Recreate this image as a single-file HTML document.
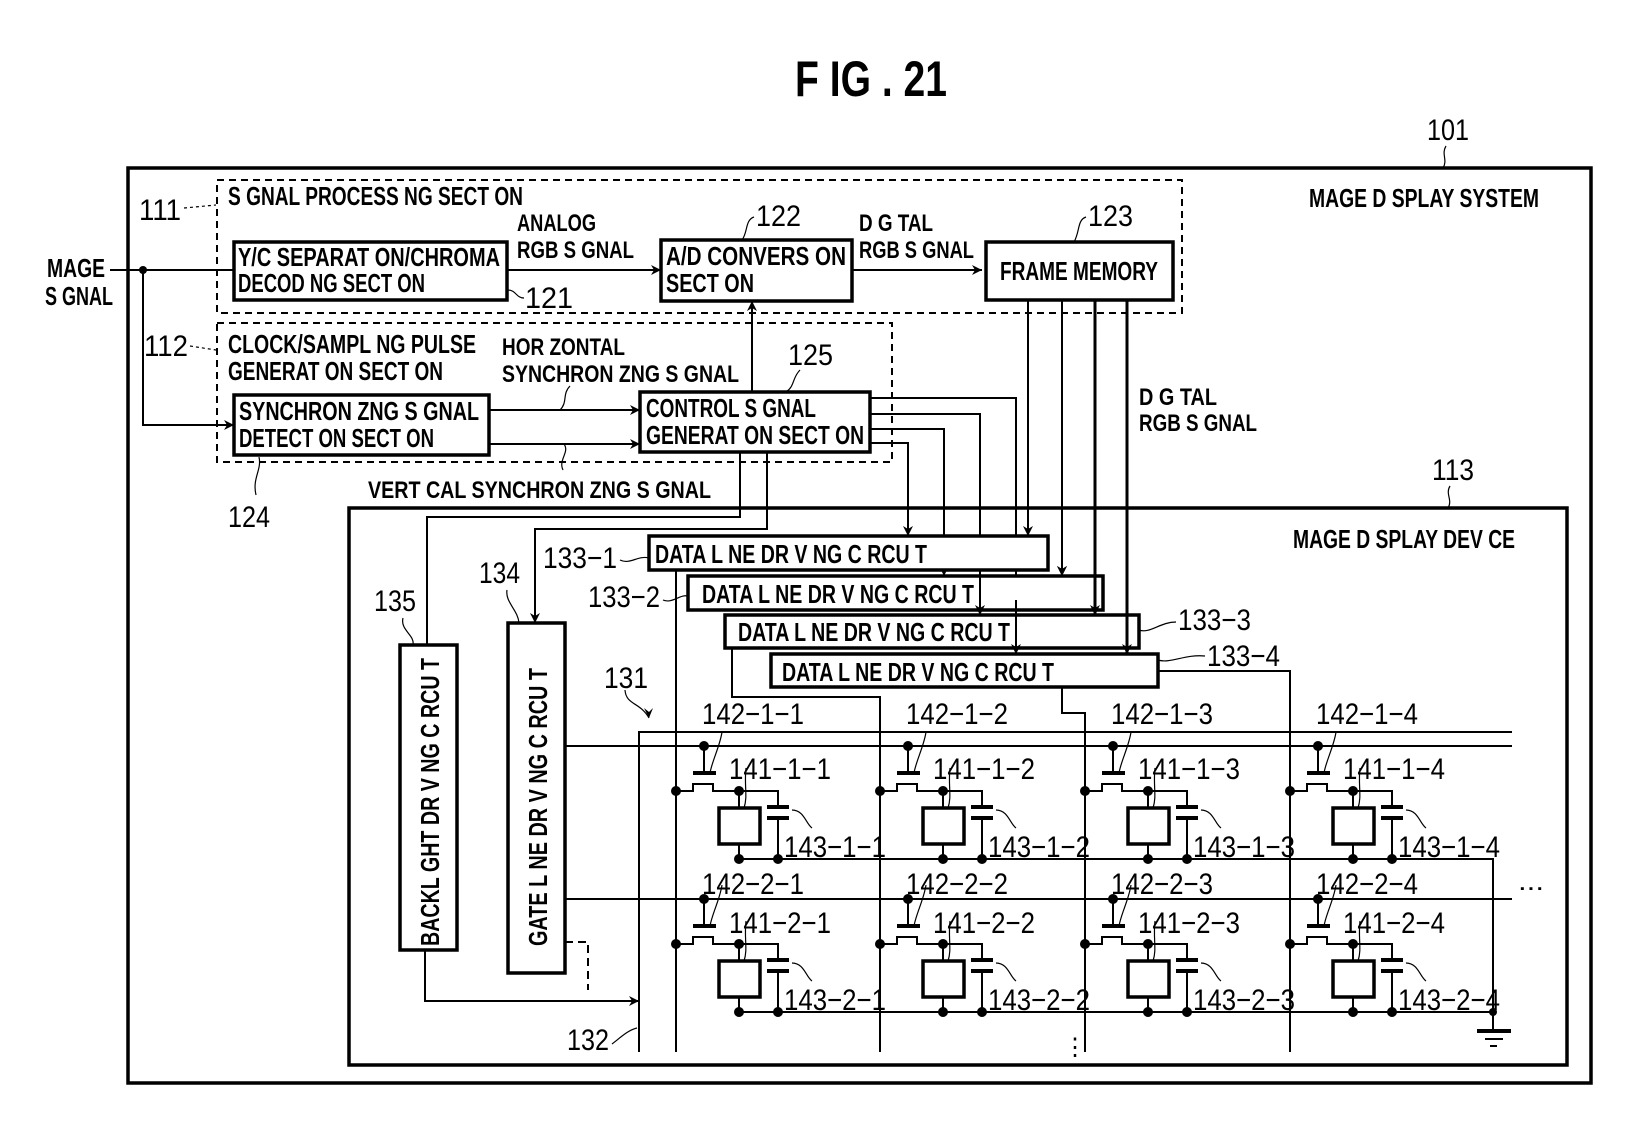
<!DOCTYPE html>
<html><head><meta charset="utf-8"><style>
html,body{margin:0;padding:0;background:#fff;}
svg{display:block;}
text{font-family:"Liberation Sans",sans-serif;fill:#000;}
.b{font-weight:bold;}
</style></head><body>
<svg width="1630" height="1134" viewBox="0 0 1630 1134" xmlns="http://www.w3.org/2000/svg">
<defs>
<marker id="ar" viewBox="0 0 10 10" refX="10" refY="5" markerWidth="10" markerHeight="10" markerUnits="userSpaceOnUse" orient="auto"><path d="M0,0 L10,5 L0,10 L3,5 z" fill="#000"/></marker>
<g id="cell" fill="none" stroke="#000" stroke-width="2">
<circle cx="28" cy="0" r="4" fill="#000"/>
<line x1="28" y1="0" x2="28" y2="27"/>
<line x1="17" y1="27" x2="40" y2="27" stroke-width="4"/>
<path d="M0 45 H17 V38 H37 V45 H102 V61"/>
<circle cx="0" cy="45" r="4" fill="#000"/>
<circle cx="63" cy="45" r="4" fill="#000"/>
<line x1="63" y1="45" x2="63" y2="62"/>
<rect x="43" y="62" width="41" height="36" stroke-width="3.5"/>
<line x1="91" y1="61" x2="113" y2="61" stroke-width="4"/>
<line x1="91" y1="72" x2="113" y2="72" stroke-width="4"/>
<line x1="102" y1="72" x2="102" y2="113"/>
<line x1="63" y1="98" x2="63" y2="113"/>
<circle cx="63" cy="113" r="4" fill="#000"/>
<circle cx="102" cy="113" r="4" fill="#000"/>
<path d="M34 27 C36 15 44 0 46 -14" stroke-width="1.2"/>
<path d="M68 62 C72 50 68 40 70 22" stroke-width="1.2"/>
<path d="M116 64 C128 64 130 78 136 82" stroke-width="1.2"/>
</g>
</defs>

<text x="795" y="96" font-size="50" class="b" textLength="152" lengthAdjust="spacingAndGlyphs">F IG . 21</text>
<text x="1427" y="140" font-size="30" textLength="42" lengthAdjust="spacingAndGlyphs">101</text>
<path d="M1446 146 C1441 154 1448 160 1443 168" fill="none" stroke="#000" stroke-width="1.2"/>

<rect x="128" y="168" width="1463" height="915" fill="none" stroke="#000" stroke-width="3.5"/>
<text x="1309" y="207" font-size="26" class="b" textLength="230" lengthAdjust="spacingAndGlyphs">MAGE D SPLAY SYSTEM</text>

<rect x="217" y="180" width="965" height="133" fill="none" stroke="#000" stroke-width="2" stroke-dasharray="7,5"/>
<text x="228" y="205" font-size="26" class="b" textLength="295" lengthAdjust="spacingAndGlyphs">S GNAL PROCESS NG SECT ON</text>
<text x="139" y="220" font-size="30" textLength="42" lengthAdjust="spacingAndGlyphs">111</text>
<line x1="184" y1="208" x2="216" y2="205" stroke="#000" stroke-width="1.2" stroke-dasharray="3,3"/>

<text x="47" y="277" font-size="26" class="b" textLength="58" lengthAdjust="spacingAndGlyphs">MAGE</text>
<text x="45" y="305" font-size="26" class="b" textLength="68" lengthAdjust="spacingAndGlyphs">S GNAL</text>
<line x1="110" y1="270" x2="234" y2="270" stroke="#000" stroke-width="2"/>
<circle cx="143" cy="270" r="4"/>
<path d="M143 270 V425 H234" fill="none" stroke="#000" stroke-width="2" marker-end="url(#ar)"/>

<rect x="234" y="242" width="273" height="58" fill="none" stroke="#000" stroke-width="3.5"/>
<text x="238" y="266" font-size="26" class="b" textLength="262" lengthAdjust="spacingAndGlyphs">Y/C SEPARAT ON/CHROMA</text>
<text x="238" y="292" font-size="26" class="b" textLength="187" lengthAdjust="spacingAndGlyphs">DECOD NG SECT ON</text>
<path d="M508 290 C516 290 516 298 524 298" fill="none" stroke="#000" stroke-width="1.2"/>
<text x="525" y="308" font-size="30" textLength="48" lengthAdjust="spacingAndGlyphs">121</text>
<line x1="507" y1="270" x2="661" y2="270" stroke="#000" stroke-width="2" marker-end="url(#ar)"/>
<text x="517" y="231" font-size="24" class="b" textLength="79" lengthAdjust="spacingAndGlyphs">ANALOG</text>
<text x="517" y="258" font-size="24" class="b" textLength="117" lengthAdjust="spacingAndGlyphs">RGB S GNAL</text>

<rect x="661" y="240" width="191" height="61" fill="none" stroke="#000" stroke-width="3.5"/>
<text x="666" y="265" font-size="26" class="b" textLength="180" lengthAdjust="spacingAndGlyphs">A/D CONVERS ON</text>
<text x="666" y="292" font-size="26" class="b" textLength="88" lengthAdjust="spacingAndGlyphs">SECT ON</text>
<text x="756" y="226" font-size="30" textLength="45" lengthAdjust="spacingAndGlyphs">122</text>
<path d="M754 217 C745 220 748 232 742 240" fill="none" stroke="#000" stroke-width="1.2"/>
<text x="859" y="231" font-size="24" class="b" textLength="74" lengthAdjust="spacingAndGlyphs">D G TAL</text>
<text x="859" y="258" font-size="24" class="b" textLength="115" lengthAdjust="spacingAndGlyphs">RGB S GNAL</text>
<line x1="852" y1="270" x2="982" y2="270" stroke="#000" stroke-width="2" marker-end="url(#ar)"/>

<rect x="986" y="242" width="187" height="58" fill="none" stroke="#000" stroke-width="3.5"/>
<text x="1000" y="280" font-size="26" class="b" textLength="158" lengthAdjust="spacingAndGlyphs">FRAME MEMORY</text>
<text x="1088" y="226" font-size="30" textLength="45" lengthAdjust="spacingAndGlyphs">123</text>
<path d="M1086 217 C1077 220 1080 232 1074 242" fill="none" stroke="#000" stroke-width="1.2"/>

<rect x="217" y="323" width="675" height="139" fill="none" stroke="#000" stroke-width="2" stroke-dasharray="7,5"/>
<text x="228" y="353" font-size="26" class="b" textLength="248" lengthAdjust="spacingAndGlyphs">CLOCK/SAMPL NG PULSE</text>
<text x="228" y="380" font-size="26" class="b" textLength="215" lengthAdjust="spacingAndGlyphs">GENERAT ON SECT ON</text>
<text x="144" y="356" font-size="30" textLength="44" lengthAdjust="spacingAndGlyphs">112</text>
<line x1="190" y1="346" x2="216" y2="350" stroke="#000" stroke-width="1.2" stroke-dasharray="3,3"/>

<rect x="234" y="395" width="255" height="60" fill="none" stroke="#000" stroke-width="3.5"/>
<text x="239" y="420" font-size="26" class="b" textLength="240" lengthAdjust="spacingAndGlyphs">SYNCHRON ZNG S GNAL</text>
<text x="239" y="447" font-size="26" class="b" textLength="195" lengthAdjust="spacingAndGlyphs">DETECT ON SECT ON</text>
<path d="M259 457 C262 470 252 478 256 495" fill="none" stroke="#000" stroke-width="1.2"/>
<text x="228" y="527" font-size="30" textLength="42" lengthAdjust="spacingAndGlyphs">124</text>

<rect x="640" y="392" width="230" height="60" fill="none" stroke="#000" stroke-width="3.5"/>
<text x="646" y="417" font-size="26" class="b" textLength="170" lengthAdjust="spacingAndGlyphs">CONTROL S GNAL</text>
<text x="646" y="444" font-size="26" class="b" textLength="218" lengthAdjust="spacingAndGlyphs">GENERAT ON SECT ON</text>
<text x="788" y="365" font-size="30" textLength="45" lengthAdjust="spacingAndGlyphs">125</text>
<path d="M800 370 C792 378 795 386 786 392" fill="none" stroke="#000" stroke-width="1.2"/>
<line x1="752" y1="392" x2="752" y2="301" stroke="#000" stroke-width="2" marker-end="url(#ar)"/>
<line x1="489" y1="410" x2="640" y2="410" stroke="#000" stroke-width="2" marker-end="url(#ar)"/>
<line x1="489" y1="444" x2="640" y2="444" stroke="#000" stroke-width="2" marker-end="url(#ar)"/>
<text x="502" y="355" font-size="24" class="b" textLength="123" lengthAdjust="spacingAndGlyphs">HOR ZONTAL</text>
<text x="502" y="382" font-size="24" class="b" textLength="237" lengthAdjust="spacingAndGlyphs">SYNCHRON ZNG S GNAL</text>
<path d="M570 386 C562 394 568 402 560 410" fill="none" stroke="#000" stroke-width="1.2"/>
<path d="M564 444 C570 452 558 460 563 470" fill="none" stroke="#000" stroke-width="1.2"/>
<text x="368" y="498" font-size="24" class="b" textLength="343" lengthAdjust="spacingAndGlyphs">VERT CAL SYNCHRON ZNG S GNAL</text>

<text x="1139" y="405" font-size="24" class="b" textLength="78" lengthAdjust="spacingAndGlyphs">D G TAL</text>
<text x="1139" y="431" font-size="24" class="b" textLength="118" lengthAdjust="spacingAndGlyphs">RGB S GNAL</text>

<g fill="none" stroke="#000" stroke-width="2">
<path d="M870 398 H1016 V654" marker-end="url(#ar)"/>
<path d="M870 414 H980 V615" marker-end="url(#ar)"/>
<path d="M870 429 H944 V576" marker-end="url(#ar)"/>
<path d="M870 443 H908 V536" marker-end="url(#ar)"/>
<path d="M1028 300 V536" marker-end="url(#ar)"/>
<path d="M1062 300 V576" marker-end="url(#ar)"/>
<path d="M1095 300 V615" stroke-width="3" marker-end="url(#ar)"/>
<path d="M1127 300 V654" stroke-width="3" marker-end="url(#ar)"/>
<path d="M740 452 V517 H427 V645"/>
<path d="M767 452 V529 H535 V623" marker-end="url(#ar)"/>
</g>

<rect x="349" y="508" width="1218" height="557" fill="none" stroke="#000" stroke-width="3.5"/>
<text x="1293" y="548" font-size="26" class="b" textLength="222" lengthAdjust="spacingAndGlyphs">MAGE D SPLAY DEV CE</text>
<text x="1432" y="480" font-size="30" textLength="42" lengthAdjust="spacingAndGlyphs">113</text>
<path d="M1450 486 C1445 494 1453 500 1448 508" fill="none" stroke="#000" stroke-width="1.2"/>

<g fill="#fff" stroke="#000" stroke-width="3.5">
<rect x="649" y="536" width="399" height="34"/>
<rect x="688" y="576" width="415" height="34"/>
<rect x="725" y="615" width="414" height="33"/>
<rect x="771" y="654" width="387" height="33"/>
</g>
<g class="b" font-size="26">
<text x="655" y="563" textLength="272" lengthAdjust="spacingAndGlyphs">DATA L NE DR V NG C RCU T</text>
<text x="702" y="603" textLength="272" lengthAdjust="spacingAndGlyphs">DATA L NE DR V NG C RCU T</text>
<text x="738" y="641" textLength="272" lengthAdjust="spacingAndGlyphs">DATA L NE DR V NG C RCU T</text>
<text x="782" y="681" textLength="272" lengthAdjust="spacingAndGlyphs">DATA L NE DR V NG C RCU T</text>
</g>
<g fill="none" stroke="#000" stroke-width="2">
<path d="M1016 600 V654" marker-end="url(#ar)"/>
<path d="M980 570 V615" marker-end="url(#ar)"/>
<path d="M1127 600 V654" stroke-width="3" marker-end="url(#ar)"/>
<path d="M1095 570 V615" stroke-width="3" marker-end="url(#ar)"/>
<path d="M1062 540 V576" marker-end="url(#ar)"/>
</g>
<g font-size="30">
<text x="543" y="568" textLength="74" lengthAdjust="spacingAndGlyphs">133−1</text>
<text x="588" y="607" textLength="72" lengthAdjust="spacingAndGlyphs">133−2</text>
<text x="1178" y="630" textLength="73" lengthAdjust="spacingAndGlyphs">133−3</text>
<text x="1207" y="666" textLength="73" lengthAdjust="spacingAndGlyphs">133−4</text>
<text x="604" y="688" textLength="44" lengthAdjust="spacingAndGlyphs">131</text>
<text x="479" y="583" textLength="41" lengthAdjust="spacingAndGlyphs">134</text>
<text x="374" y="611" textLength="42" lengthAdjust="spacingAndGlyphs">135</text>
<text x="567" y="1050" textLength="42" lengthAdjust="spacingAndGlyphs">132</text>
</g>
<g fill="none" stroke="#000" stroke-width="1.2">
<path d="M620 560 C630 565 638 555 649 558"/>
<path d="M663 600 C672 604 680 594 688 596"/>
<path d="M1139 630 C1150 634 1160 622 1176 622"/>
<path d="M1158 660 C1170 664 1185 654 1205 656"/>
<path d="M625 690 C626 705 640 702 649 718"/>
<path d="M507 590 C505 602 518 610 519 623"/>
<path d="M403 618 C400 630 415 635 413 645"/>
<path d="M612 1044 C620 1038 628 1030 637 1028"/>
</g>
<path d="M649 718 l-5 -10 l5 4 l4 -4z" fill="#000"/>

<rect x="400" y="645" width="57" height="305" fill="none" stroke="#000" stroke-width="3.5"/>
<rect x="508" y="623" width="57" height="350" fill="none" stroke="#000" stroke-width="3.5"/>
<text transform="translate(439,946) rotate(-90)" font-size="26" class="b" textLength="288" lengthAdjust="spacingAndGlyphs">BACKL GHT DR V NG C RCU T</text>
<text transform="translate(547,946) rotate(-90)" font-size="26" class="b" textLength="278" lengthAdjust="spacingAndGlyphs">GATE L NE DR V NG C RCU T</text>
<path d="M425 950 V1001 H639" fill="none" stroke="#000" stroke-width="2" marker-end="url(#ar)"/>
<path d="M565 942 H588 V990" fill="none" stroke="#000" stroke-width="2" stroke-dasharray="8,5"/>

<g fill="none" stroke="#000" stroke-width="2">
<path d="M639 1052 V732 H1512"/>
<line x1="565" y1="746" x2="1512" y2="746"/>
<line x1="565" y1="899" x2="1512" y2="899"/>
<line x1="676" y1="570" x2="676" y2="1052"/>
<path d="M732 648 V697 H880 V1052"/>
<path d="M1062 687 V713 H1085 V1052"/>
<path d="M1158 671 H1290 V1052"/>
<path d="M739 859 H1493 V1012 H739"/>
<line x1="1493" y1="1012" x2="1493" y2="1031"/>
<line x1="1477" y1="1031" x2="1511" y2="1031" stroke-width="4"/>
<line x1="1485" y1="1039" x2="1503" y2="1039"/>
<line x1="1490" y1="1046" x2="1497" y2="1046"/>
</g>
<circle cx="1493" cy="1012" r="4"/>
<text x="1518" y="890" font-size="26" textLength="26" lengthAdjust="spacingAndGlyphs">...</text>
<text x="1063" y="1055" font-size="24">⋮</text>

<use href="#cell" x="676" y="746"/><use href="#cell" x="880" y="746"/><use href="#cell" x="1085" y="746"/><use href="#cell" x="1290" y="746"/>
<use href="#cell" x="676" y="899"/><use href="#cell" x="880" y="899"/><use href="#cell" x="1085" y="899"/><use href="#cell" x="1290" y="899"/>

<g font-size="30">
<text x="702" y="724" textLength="102" lengthAdjust="spacingAndGlyphs">142−1−1</text>
<text x="906" y="724" textLength="102" lengthAdjust="spacingAndGlyphs">142−1−2</text>
<text x="1111" y="724" textLength="102" lengthAdjust="spacingAndGlyphs">142−1−3</text>
<text x="1316" y="724" textLength="102" lengthAdjust="spacingAndGlyphs">142−1−4</text>
<text x="729" y="779" textLength="102" lengthAdjust="spacingAndGlyphs">141−1−1</text>
<text x="933" y="779" textLength="102" lengthAdjust="spacingAndGlyphs">141−1−2</text>
<text x="1138" y="779" textLength="102" lengthAdjust="spacingAndGlyphs">141−1−3</text>
<text x="1343" y="779" textLength="102" lengthAdjust="spacingAndGlyphs">141−1−4</text>
<text x="784" y="857" textLength="102" lengthAdjust="spacingAndGlyphs">143−1−1</text>
<text x="988" y="857" textLength="102" lengthAdjust="spacingAndGlyphs">143−1−2</text>
<text x="1193" y="857" textLength="102" lengthAdjust="spacingAndGlyphs">143−1−3</text>
<text x="1398" y="857" textLength="102" lengthAdjust="spacingAndGlyphs">143−1−4</text>
<text x="702" y="894" textLength="102" lengthAdjust="spacingAndGlyphs">142−2−1</text>
<text x="906" y="894" textLength="102" lengthAdjust="spacingAndGlyphs">142−2−2</text>
<text x="1111" y="894" textLength="102" lengthAdjust="spacingAndGlyphs">142−2−3</text>
<text x="1316" y="894" textLength="102" lengthAdjust="spacingAndGlyphs">142−2−4</text>
<text x="729" y="933" textLength="102" lengthAdjust="spacingAndGlyphs">141−2−1</text>
<text x="933" y="933" textLength="102" lengthAdjust="spacingAndGlyphs">141−2−2</text>
<text x="1138" y="933" textLength="102" lengthAdjust="spacingAndGlyphs">141−2−3</text>
<text x="1343" y="933" textLength="102" lengthAdjust="spacingAndGlyphs">141−2−4</text>
<text x="784" y="1010" textLength="102" lengthAdjust="spacingAndGlyphs">143−2−1</text>
<text x="988" y="1010" textLength="102" lengthAdjust="spacingAndGlyphs">143−2−2</text>
<text x="1193" y="1010" textLength="102" lengthAdjust="spacingAndGlyphs">143−2−3</text>
<text x="1398" y="1010" textLength="102" lengthAdjust="spacingAndGlyphs">143−2−4</text>
</g>
</svg>
</body></html>
